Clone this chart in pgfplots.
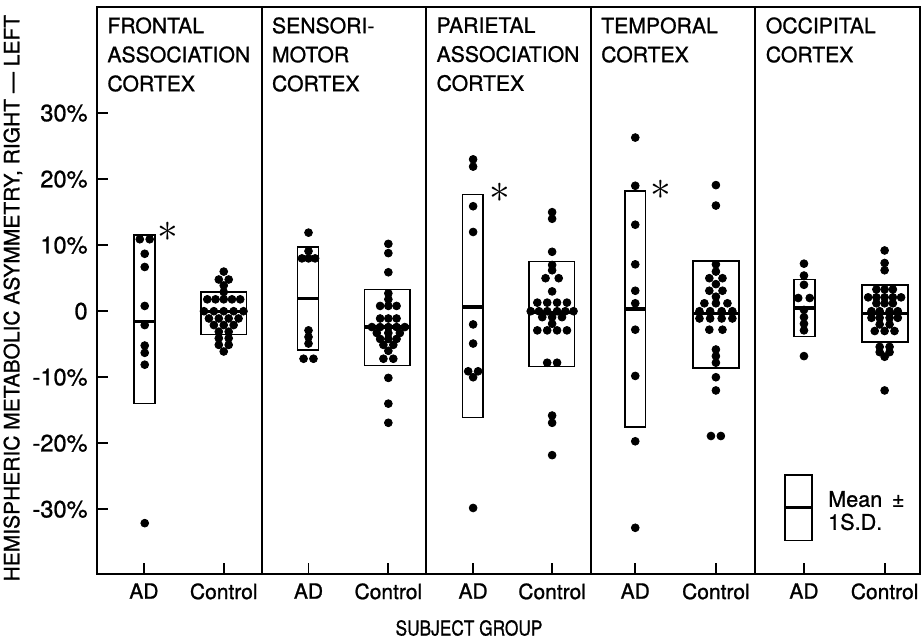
\documentclass[border=0pt]{standalone}
\usepackage{pgfplots}
\pgfplotsset{compat=1.18}
\usepackage{fontspec}
\setmainfont{TeX Gyre Heros}[FakeBold=1]
\newcommand\sdbox[5]{%
 \addplot[black, line width=0.8pt] coordinates {(#1,#3) (#2,#3) (#2,#4) (#1,#4)} -- cycle;
 \addplot[black, line width=1.6pt] coordinates {(#1,#5) (#2,#5)};}
\pgfplotsset{dots/.style={only marks, mark=*, mark size=1.95pt, black, mark options={fill=black}}}
\begin{document}
\fontsize{10.5}{12.6}\selectfont
\begin{tikzpicture}
\begin{axis}[name=ax, scale only axis, width=411.5pt, height=283.25pt,
 xmin=0, xmax=5, ymin=-39.8, ymax=46, clip=false,
 axis line style={line width=1pt},
 tick align=inside, tick pos=left, major tick length=5.5pt,
 every tick/.style={black, line width=0.9pt},
 xtick={0.285,0.77,1.285,1.77,2.285,2.765,3.27,3.76,4.295,4.785},
 xticklabels={AD,Control,AD,Control,AD,Control,AD,Control,AD,Control},
 ytick={-30,-20,-10,0,10,20,30},
 yticklabels={-30\%,-20\%,-10\%,0,10\%,20\%,30\%},
 xticklabel style={yshift=-1pt, font=\fontsize{10.5}{12.6}\selectfont},
 yticklabel style={xshift=-1pt, font=\fontsize{11.8}{13}\selectfont},
]
% panel dividers
\addplot[black, line width=1pt] coordinates {(1,-39.8) (1,46)};
\addplot[black, line width=1pt] coordinates {(2,-39.8) (2,46)};
\addplot[black, line width=1pt] coordinates {(3,-39.8) (3,46)};
\addplot[black, line width=1pt] coordinates {(4,-39.8) (4,46)};
% mean +- SD boxes
\sdbox{0.226}{0.352}{-14.0}{11.5}{-1.5}
\sdbox{0.631}{0.909}{-3.5}{2.9}{0.0}
\sdbox{1.219}{1.345}{-5.9}{9.7}{1.9}
\sdbox{1.624}{1.902}{-8.2}{3.3}{-2.4}
\sdbox{2.220}{2.346}{-16.1}{17.7}{0.65}
\sdbox{2.623}{2.901}{-8.4}{7.5}{-0.15}
\sdbox{3.206}{3.332}{-17.5}{18.2}{0.35}
\sdbox{3.621}{3.899}{-8.6}{7.6}{-0.4}
\sdbox{4.235}{4.361}{-3.8}{4.8}{0.5}
\sdbox{4.649}{4.927}{-4.7}{4.0}{-0.35}
% legend box
\sdbox{4.180}{4.342}{-34.7}{-24.8}{-29.7}
% Frontal
\addplot[dots] table[x expr=\thisrow{d}+0.29, y=v, row sep=\\] {d v\\
-0.03 10.9\\ 0.03 10.9\\ 0 8.7\\ 0 6.7\\ 0 0.8\\ 0 -2.1\\ 0 -5.2\\ 0 -6.3\\ 0 -8.1\\ 0 -32.1\\};
\addplot[dots] table[x expr=\thisrow{d}+0.77, y=v, row sep=\\] {d v\\
0 6.0\\ -0.03 4.8\\ 0.03 4.8\\ 0 3.9\\ 0 2.9\\
-0.1 1.8\\ -0.05 1.8\\ 0 1.8\\ 0.05 1.8\\ 0.1 1.8\\
-0.12 0.0\\ -0.06 0.0\\ 0 0.0\\ 0.06 0.0\\ 0.12 0.0\\
-0.09 -1.1\\ -0.03 -1.1\\ 0.03 -1.1\\ 0.09 -1.1\\
-0.06 -2.1\\ 0 -2.1\\ 0.06 -2.1\\
-0.03 -3.1\\ 0.03 -3.1\\ -0.03 -4.1\\ 0.03 -4.1\\ -0.03 -5.1\\ 0.03 -5.1\\ 0 -6.1\\};
% Sensorimotor
\addplot[dots] table[x expr=\thisrow{d}+1.285, y=v, row sep=\\] {d v\\
0 11.9\\ 0 9.1\\ -0.04 8.0\\ 0 8.0\\ 0.04 8.0\\ 0 -2.9\\ 0 -3.9\\ 0 -4.9\\ -0.03 -7.2\\ 0.03 -7.2\\};
\addplot[dots] table[x expr=\thisrow{d}+1.77, y=v, row sep=\\] {d v\\
0 10.2\\ 0 8.8\\ 0 5.9\\ 0 2.7\\ 0 1.8\\
-0.05 0.8\\ 0 0.8\\ 0.05 0.8\\ -0.05 -1.1\\ 0 -1.1\\ 0.05 -1.1\\
-0.1 -2.4\\ -0.05 -2.4\\ 0 -2.4\\ 0.05 -2.4\\ 0.1 -2.4\\
-0.07 -3.3\\ 0 -3.3\\ 0.07 -3.3\\ -0.05 -4.2\\ 0 -4.2\\ 0.05 -4.2\\
-0.03 -5.1\\ 0.03 -5.1\\ 0 -6.0\\ -0.03 -7.2\\ 0.03 -7.2\\
0 -10.1\\ 0 -14.0\\ 0 -16.9\\};
% Parietal
\addplot[dots] table[x expr=\thisrow{d}+2.285, y=v, row sep=\\] {d v\\
0 23.0\\ 0 21.9\\ 0 15.9\\ 0 12.0\\ 0 -2.0\\ 0 -4.9\\ -0.03 -9.1\\ 0.03 -9.1\\ 0 -10.0\\ 0 -29.8\\};
\addplot[dots] table[x expr=\thisrow{d}+2.765, y=v, row sep=\\] {d v\\
0 15.0\\ 0 14.0\\ 0 9.0\\ 0 7.0\\ 0 6.2\\ -0.04 5.0\\ 0.04 5.0\\ 0 3.0\\
-0.09 1.3\\ -0.03 1.3\\ 0.03 1.3\\ 0.09 1.3\\
-0.13 0.0\\ -0.08 0.0\\ -0.03 0.0\\ 0.03 0.0\\ 0.08 0.0\\ 0.13 0.0\\
-0.06 -0.9\\ 0 -0.9\\ 0.06 -0.9\\ 0 -1.9\\
-0.09 -2.9\\ -0.03 -2.9\\ 0.03 -2.9\\ 0.09 -2.9\\
-0.03 -7.8\\ 0.03 -7.8\\ 0 -15.8\\ 0 -16.9\\ 0 -21.8\\};
% Temporal
\addplot[dots] table[x expr=\thisrow{d}+3.27, y=v, row sep=\\] {d v\\
0 26.3\\ 0 19.0\\ 0 13.1\\ 0 7.1\\ 0 3.1\\ 0 1.2\\ 0 -2.8\\ 0 -9.8\\ 0 -19.7\\ 0 -32.8\\};
\addplot[dots] table[x expr=\thisrow{d}+3.76, y=v, row sep=\\] {d v\\
0 19.1\\ 0 16.0\\ 0 7.1\\ 0 6.0\\ -0.04 5.0\\ 0.04 5.0\\ 0 4.1\\ -0.04 3.1\\ 0.04 3.1\\ 0 2.2\\
-0.07 1.2\\ 0 1.2\\ 0.07 1.2\\
-0.1 0.0\\ -0.035 0.0\\ 0.035 0.0\\ 0.1 0.0\\
-0.1 -1.1\\ -0.035 -1.1\\ 0.035 -1.1\\ 0.1 -1.1\\
-0.04 -2.8\\ 0.04 -2.8\\ 0 -5.8\\ 0 -6.8\\ 0 -7.8\\ 0 -10.0\\ 0 -12.0\\ -0.03 -18.9\\ 0.03 -18.9\\};
% Occipital
\addplot[dots] table[x expr=\thisrow{d}+4.295, y=v, row sep=\\] {d v\\
0 7.2\\ 0 5.4\\ 0 4.0\\ -0.035 2.0\\ 0.035 2.0\\ 0 0.2\\ 0 -0.9\\ 0 -1.9\\ 0 -2.9\\ 0 -6.8\\};
\addplot[dots] table[x expr=\thisrow{d}+4.785, y=v, row sep=\\] {d v\\
0 9.2\\ 0 7.3\\ 0 6.2\\ -0.05 3.3\\ 0 3.3\\ 0.05 3.3\\
-0.1 2.1\\ -0.05 2.1\\ 0 2.1\\ 0.05 2.1\\ 0.1 2.1\\
-0.05 1.2\\ 0 1.2\\ 0.05 1.2\\
-0.08 0.0\\ -0.03 0.0\\ 0.03 0.0\\ 0.08 0.0\\
-0.08 -1.0\\ -0.03 -1.0\\ 0.03 -1.0\\ 0.08 -1.0\\
-0.03 -2.0\\ 0.03 -2.0\\ -0.06 -3.0\\ 0 -3.0\\ 0.06 -3.0\\
-0.03 -5.4\\ 0.03 -5.4\\ -0.03 -6.2\\ 0.03 -6.2\\ 0 -6.9\\ 0 -12.0\\};
% panel titles
\tikzset{ptitle/.style={anchor=north west, inner sep=0pt, align=left, xshift=5pt, yshift=-4.75pt, font=\fontsize{10.6}{14.5}\selectfont}}
\node[ptitle] at (axis cs:0,46) {FRONTAL\\ASSOCIATION\\CORTEX};
\node[ptitle] at (axis cs:1,46) {SENSORI-\\MOTOR\\CORTEX};
\node[ptitle] at (axis cs:2,46) {PARIETAL\\ASSOCIATION\\CORTEX};
\node[ptitle] at (axis cs:3,46) {TEMPORAL\\CORTEX};
\node[ptitle] at (axis cs:4,46) {OCCIPITAL\\CORTEX};
% asterisks
\node at (axis cs:0.43,12.0) {\huge$\ast$};
\node at (axis cs:2.448,17.9) {\huge$\ast$};
\node at (axis cs:3.425,18.4) {\huge$\ast$};
% legend text
\node[anchor=west, align=left, inner sep=0pt, font=\fontsize{10.8}{11.5}\selectfont] at (axis cs:4.44,-30.2) {Mean\hspace{0.45em}±\\1S.D.};
\end{axis}
\node[rotate=90, anchor=center] at ([xshift=-42pt, yshift=-3.7pt]ax.west) {HEMISPHERIC METABOLIC ASYMMETRY, RIGHT — LEFT};
\node[anchor=center, xscale=0.84, transform shape, font=\fontsize{10.3}{12}\selectfont] at ([xshift=-19.75pt, yshift=-27pt]ax.south) {SUBJECT GROUP};
\pgfresetboundingbox
\path ([xshift=-48.5pt,yshift=-33pt]ax.south west) rectangle ([xshift=1.5pt,yshift=3.75pt]ax.north east);
\end{tikzpicture}
\end{document}
